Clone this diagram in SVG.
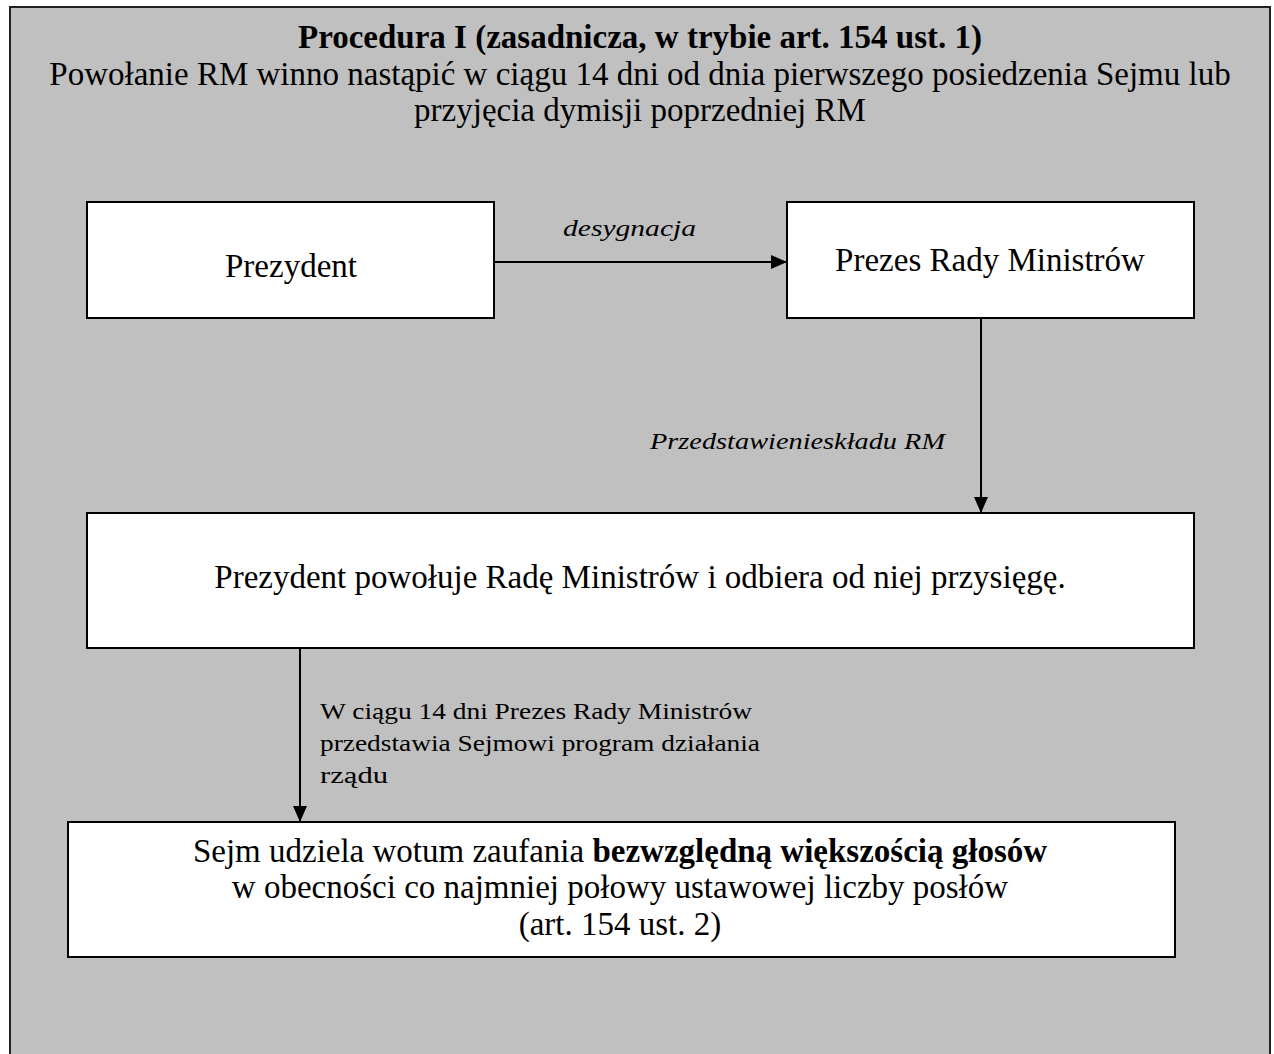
<svg xmlns="http://www.w3.org/2000/svg" width="1274" height="1054" viewBox="0 0 1274 1054">
<defs>
<marker id="ah" markerWidth="16" markerHeight="14" refX="16" refY="7" orient="auto" markerUnits="userSpaceOnUse"><path d="M0,0 L16,7 L0,14 z" fill="#000"/></marker>
<style>
text{font-family:'Liberation Serif','Times New Roman',serif;fill:#000}
.t{font-size:33px}
.b{font-weight:bold}
.i{font-style:italic;font-size:24px}
.s{font-size:24px}
.box{fill:#fff;stroke:#000;stroke-width:2}
.ln{stroke:#000;stroke-width:2;fill:none;marker-end:url(#ah)}
</style>
</defs>
<rect x="0" y="0" width="1274" height="1054" fill="#fff"/>
<g id="frame">
<rect x="10" y="7" width="1260" height="1060" fill="#c0c0c0" stroke="#222" stroke-width="2"/>
<text class="t b" x="640" y="48" text-anchor="middle">Procedura I (zasadnicza, w trybie art. 154 ust. 1)</text>
<text class="t" x="640" y="85" text-anchor="middle">Powołanie RM winno nastąpić w ciągu 14 dni od dnia pierwszego posiedzenia Sejmu lub</text>
<text class="t" x="640" y="121" text-anchor="middle">przyjęcia dymisji poprzedniej RM</text>
</g>
<g id="connectors">
<line class="ln" x1="494" y1="262" x2="787" y2="262"/>
<line class="ln" x1="981" y1="318" x2="981" y2="513"/>
<line class="ln" x1="300" y1="648" x2="300" y2="822"/>
<text class="i" x="563" y="236" textLength="133" lengthAdjust="spacingAndGlyphs">desygnacja</text>
<text class="i" x="650" y="449" textLength="295" lengthAdjust="spacingAndGlyphs">Przedstawienieskładu RM</text>
<text class="s" x="320" y="719" textLength="432" lengthAdjust="spacingAndGlyphs">W ciągu 14 dni Prezes Rady Ministrów</text>
<text class="s" x="320" y="751" textLength="440" lengthAdjust="spacingAndGlyphs">przedstawia Sejmowi program działania</text>
<text class="s" x="320" y="783" textLength="68" lengthAdjust="spacingAndGlyphs">rządu</text>
</g>
<g id="prezydent">
<rect class="box" x="87" y="202" width="407" height="116"/>
<text class="t" x="291" y="277" text-anchor="middle">Prezydent</text>
</g>
<g id="prezes">
<rect class="box" x="787" y="202" width="407" height="116"/>
<text class="t" x="990" y="271" text-anchor="middle">Prezes Rady Ministrów</text>
</g>
<g id="powolanie">
<rect class="box" x="87" y="513" width="1107" height="135"/>
<text class="t" x="640" y="588" text-anchor="middle">Prezydent powołuje Radę Ministrów i odbiera od niej przysięgę.</text>
</g>
<g id="wotum">
<rect class="box" x="68" y="822" width="1107" height="135"/>
<text class="t" x="620" y="862" text-anchor="middle">Sejm udziela wotum zaufania <tspan class="b">bezwzględną większością głosów</tspan></text>
<text class="t" x="620" y="898" text-anchor="middle">w obecności co najmniej połowy ustawowej liczby posłów</text>
<text class="t" x="620" y="935" text-anchor="middle">(art. 154 ust. 2)</text>
</g>
</svg>
